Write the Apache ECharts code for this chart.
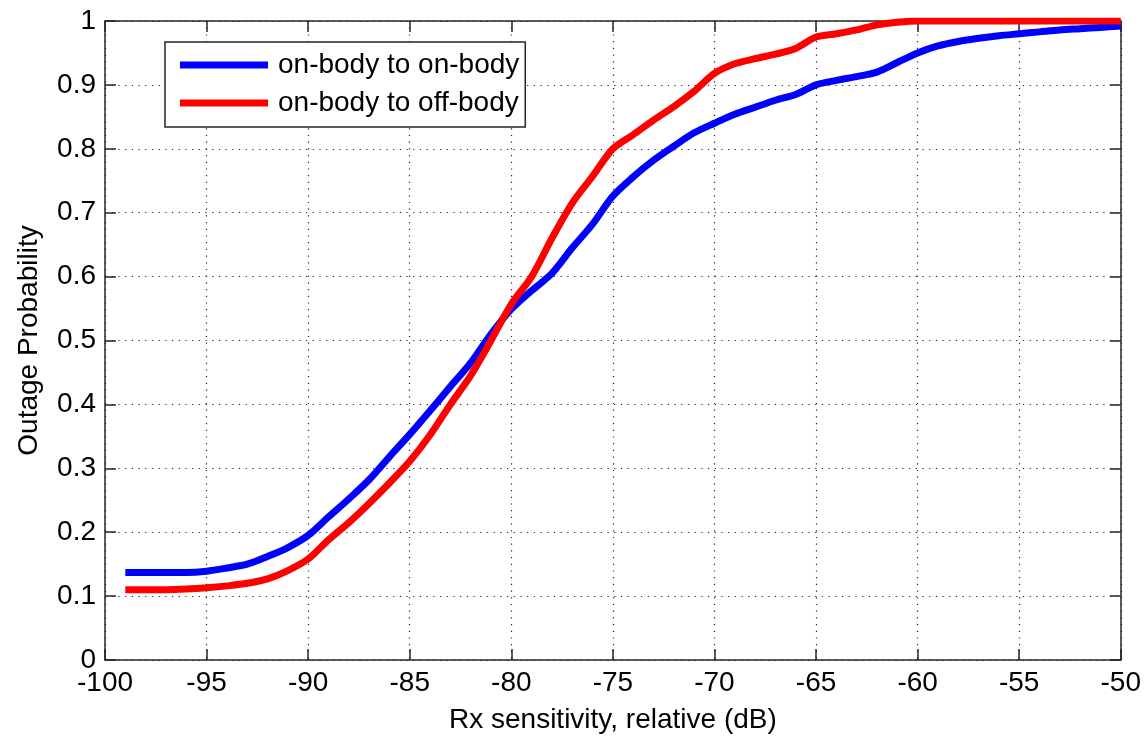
<!DOCTYPE html>
<html>
<head>
<meta charset="utf-8">
<script src="https://cdn.jsdelivr.net/npm/echarts@6/dist/echarts.min.js"></script>
<style>html,body{margin:0;padding:0;background:#fff;}#c{width:1144px;height:739px;}</style>
</head>
<body>
<div id="c"></div>
<script>
var xValues = [-99,-98,-97,-96,-95,-94,-93,-92,-91,-90,-89,-88,-87,-86,-85,-84,-83,-82,-81,-80,-79,-78,-77,-76,-75,-74,-73,-72,-71,-70,-69,-68,-67,-66,-65,-64,-63,-62,-61,-60,-59,-58,-57,-56,-55,-54,-53,-52,-51,-50];
var onBody = [0.137,0.137,0.137,0.137,0.139,0.144,0.150,0.162,0.176,0.195,0.224,0.252,0.282,0.318,0.353,0.390,0.428,0.465,0.510,0.549,0.578,0.605,0.645,0.682,0.726,0.756,0.782,0.804,0.825,0.840,0.854,0.865,0.876,0.885,0.900,0.907,0.913,0.920,0.935,0.950,0.961,0.968,0.973,0.977,0.980,0.983,0.986,0.988,0.990,0.992];
var offBody = [0.110,0.110,0.110,0.111,0.113,0.116,0.120,0.127,0.140,0.158,0.188,0.215,0.245,0.277,0.311,0.352,0.400,0.445,0.500,0.557,0.600,0.660,0.715,0.757,0.800,0.822,0.845,0.866,0.890,0.918,0.933,0.941,0.948,0.957,0.975,0.980,0.986,0.994,0.998,1.0,1.0,1.0,1.0,1.0,1.0,1.0,1.0,1.0,1.0,1.0];
var seriesNames = ['on-body to on-body', 'on-body to off-body'];
var xAxisName = 'Rx sensitivity, relative (dB)';
var yAxisName = 'Outage Probability';

function pairs(ys){ return xValues.map(function(x,i){ return [x, ys[i]]; }); }

var FONT = 'Liberation Sans';
var FS = 28;
var axisCol = '#262626';
var gridLine = {show:true, lineStyle:{color:'#222', width:1.2, type:[1.2,5.5]}};

var chart = echarts.init(document.getElementById('c'), null, {renderer:'canvas'});
chart.setOption({
  backgroundColor:'#fff',
  animation:false,
  grid:{left:105, right:16, top:21, bottom:76, containLabel:false},
  legend:{
    orient:'vertical', left:165, top:42,
    backgroundColor:'#fff', borderColor:'#262626', borderWidth:1.5,
    padding:[9,6,10,15],
    itemWidth:88, itemHeight:7, itemGap:10,
    icon:'rect',
    textStyle:{fontFamily:FONT, fontSize:FS, color:'#000', padding:[0,0,0,5]},
    data:seriesNames
  },
  xAxis:[{
    type:'value', min:-100, max:-50, interval:5, position:'bottom',
    name:xAxisName, nameLocation:'middle', nameGap:46,
    nameTextStyle:{fontFamily:FONT, fontSize:FS, color:'#000'},
    axisLine:{show:true, onZero:false, lineStyle:{color:axisCol, width:1.5}},
    axisTick:{show:true, inside:true, length:11, lineStyle:{color:axisCol, width:1.5}},
    axisLabel:{fontFamily:FONT, fontSize:FS, color:'#000', margin:9},
    splitLine:gridLine
  },{
    type:'value', min:-100, max:-50, interval:5, position:'top',
    axisLine:{show:true, onZero:false, lineStyle:{color:axisCol, width:1.5}},
    axisTick:{show:true, inside:true, length:11, lineStyle:{color:axisCol, width:1.5}},
    axisLabel:{show:false}, splitLine:{show:false}
  }],
  yAxis:[{
    type:'value', min:0, max:1, interval:0.1, position:'left',
    name:yAxisName, nameLocation:'middle', nameGap:62, nameRotate:90,
    nameTextStyle:{fontFamily:FONT, fontSize:FS, color:'#000'},
    axisLine:{show:true, onZero:false, lineStyle:{color:axisCol, width:1.5}},
    axisTick:{show:true, inside:true, length:11, lineStyle:{color:axisCol, width:1.5}},
    axisLabel:{fontFamily:FONT, fontSize:FS, color:'#000', margin:9},
    splitLine:gridLine
  },{
    type:'value', min:0, max:1, interval:0.1, position:'right',
    axisLine:{show:true, onZero:false, lineStyle:{color:axisCol, width:1.5}},
    axisTick:{show:true, inside:true, length:11, lineStyle:{color:axisCol, width:1.5}},
    axisLabel:{show:false}, splitLine:{show:false}
  }],
  series:[{
    name:seriesNames[0], type:'line', data:pairs(onBody), showSymbol:false, symbol:'none',
    smooth:0.3, lineStyle:{color:'#0000ff', width:7}, itemStyle:{color:'#0000ff'}, z:3
  },{
    name:seriesNames[1], type:'line', data:pairs(offBody), showSymbol:false, symbol:'none',
    smooth:0.3, lineStyle:{color:'#ff0000', width:7}, itemStyle:{color:'#ff0000'}, z:4
  }]
});
</script>
</body>
</html>
